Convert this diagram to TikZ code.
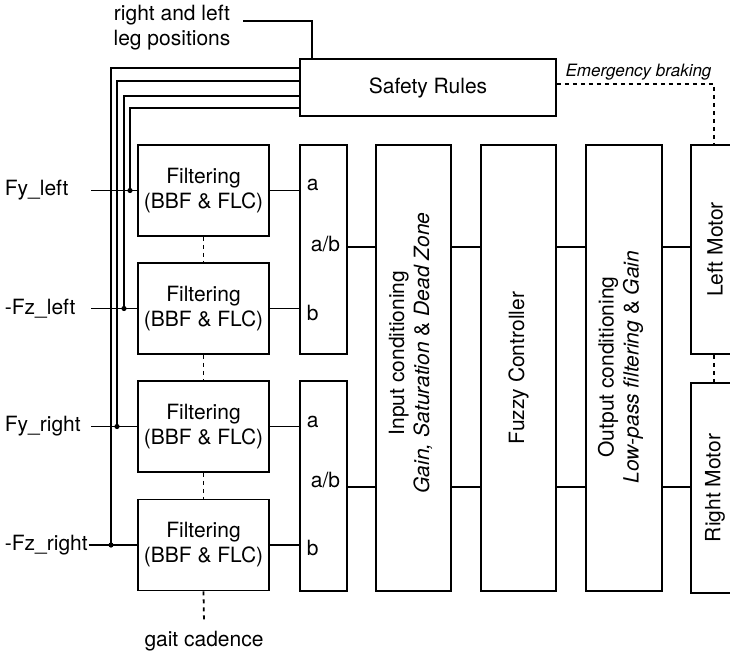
\documentclass[tikz,border=0pt]{standalone}
\usepackage{fontspec}
\setmainfont{TeX Gyre Heros}
\begin{document}
\begin{tikzpicture}[x=1pt,y=-1pt,line width=1.8pt,
  every node/.style={font=\fontsize{21}{25}\selectfont},
  box/.style={draw,line width=1.8pt,inner sep=0pt,align=center},
  lab/.style={inner sep=0pt},
  dotline/.style={dash pattern=on 4pt off 4pt},
  junc/.style={fill=black}]
\useasboundingbox (0,0) rectangle (730,655);
\clip (0,0) rectangle (730,655);

% main boxes
\node[box,minimum width=256pt,minimum height=57pt] (safety) at (428,87.5) {Safety Rules};
\node[box,minimum width=131pt,minimum height=91pt] (f1) at (203.5,190.5) {Filtering\\(BBF \& FLC)};
\node[box,minimum width=131pt,minimum height=91pt] (f2) at (203.5,308.5) {Filtering\\(BBF \& FLC)};
\node[box,minimum width=131pt,minimum height=91pt] (f3) at (203.5,426.5) {Filtering\\(BBF \& FLC)};
\node[box,minimum width=131pt,minimum height=91pt] (f4) at (203.5,545) {Filtering\\(BBF \& FLC)};
\node[box,minimum width=47pt,minimum height=209pt] (m1) at (323.5,249.5) {};
\node[box,minimum width=47pt,minimum height=210pt] (m2) at (323.5,486) {};
\node[box,minimum width=75pt,minimum height=446pt] (ic) at (413.5,368) {};
\node[box,minimum width=75pt,minimum height=446pt] (fc) at (518.5,368) {};
\node[box,minimum width=76pt,minimum height=446pt] (oc) at (624,368) {};
\node[box,minimum width=48pt,minimum height=209pt] (lm) at (715,249.5) {};
\node[box,minimum width=48pt,minimum height=210pt] (rm) at (715,488) {};

% rotated texts
\node[lab,rotate=90,align=center] (ictxt) at (410.5,353) {Input conditioning\\\textit{Gain, Saturation} \& \textit{Dead Zone}};
\node[lab,rotate=90] (fctxt) at (518.5,368) {Fuzzy Controller};
\node[lab,rotate=90,align=center] (octxt) at (620.5,367) {Output conditioning\\\textit{Low-pass filtering} \& \textit{Gain}};
\node[lab,rotate=90] (lmtxt) at (715,249.5) {Left Motor};
\node[lab,rotate=90] (rmtxt) at (715,488) {Right Motor};

% mux labels
\node[lab,anchor=west] (a1) at (306,185) {a};
\node[lab,anchor=east] (ab1) at (341,244.5) {a/b};
\node[lab,anchor=west] (b1) at (306,313) {b};
\node[lab,anchor=west] (a2) at (306,421.5) {a};
\node[lab,anchor=east] (ab2) at (341,480) {a/b};
\node[lab,anchor=west] (b2) at (306,548) {b};

% input labels
\node[lab,anchor=west] (l1) at (4,190.5) {Fy\_left};
\node[lab,anchor=west] (l2) at (4,308.5) {-Fz\_left};
\node[lab,anchor=west] (l3) at (4,426.5) {Fy\_right};
\node[lab,anchor=west] (l4) at (4,545) {-Fz\_right};
\coordinate (i1) at (91,190.5);
\coordinate (i2) at (91,308.5);
\coordinate (i3) at (91,426.5);
\draw (i1) -- (f1.west);
\draw (i2) -- (f2.west);
\draw (i3) -- (f3.west);
\draw (l4.east) -- (f4.west);

% feedback lines from safety rules
\coordinate (j1) at (130,190.5);
\coordinate (j2) at (124,308.5);
\coordinate (j3) at (117,426.5);
\coordinate (j4) at (111,545);
\coordinate (s1) at (0,108);
\coordinate (s2) at (0,96);
\coordinate (s3) at (0,81);
\coordinate (s4) at (0,68);
\draw (safety.west |- s1) -| (j1);
\draw (safety.west |- s2) -| (j2);
\draw (safety.west |- s3) -| (j3);
\draw (safety.west |- s4) -| (j4);
\fill[junc] (j1) circle (2.6pt);
\fill[junc] (j2) circle (2.6pt);
\fill[junc] (j3) circle (2.6pt);
\fill[junc] (j4) circle (2.6pt);

% leg positions
\node[lab,align=center] (legtxt) at (172,28) {right and left\\leg positions};
\coordinate (lp) at (243,21);
\coordinate (lq) at (312,0);
\draw (lp) -| (safety.north -| lq);

% filter to mux
\draw (f1.east) -- (m1.west |- f1.east);
\draw (f2.east) -- (m1.west |- f2.east);
\draw (f3.east) -- (m2.west |- f3.east);
\draw (f4.east) -- (m2.west |- f4.east);

% dotted between filters
\coordinate (gc) at (204,623);
\draw[dotline] (f1.south) -- (f2.north);
\draw[dotline] (f2.south) -- (f3.north);
\draw[dotline] (f3.south) -- (f4.north);
\draw[dotline] (f4.south) -- (gc);
\node[lab] (gctxt) at (204,641) {gait cadence};

% chain connections
\coordinate (ya) at (0,247);
\coordinate (yb) at (0,487);
\draw (m1.east |- ya) -- (ic.west |- ya);
\draw (m2.east |- yb) -- (ic.west |- yb);
\draw (ic.east |- ya) -- (fc.west |- ya);
\draw (ic.east |- yb) -- (fc.west |- yb);
\draw (fc.east |- ya) -- (oc.west |- ya);
\draw (fc.east |- yb) -- (oc.west |- yb);
\draw (oc.east |- ya) -- (lm.west |- ya);
\draw (oc.east |- yb) -- (rm.west |- yb);

% emergency braking
\coordinate (eb) at (714,84);
\draw[dotline] (safety.east |- eb) -- (eb) -- (lm.north -| eb);
\node[lab,font=\fontsize{17}{20}\selectfont\itshape] (ebtxt) at (638.5,72) {Emergency braking};
\draw[dotline] (lm.south -| eb) -- (rm.north -| eb);
\end{tikzpicture}
\end{document}
